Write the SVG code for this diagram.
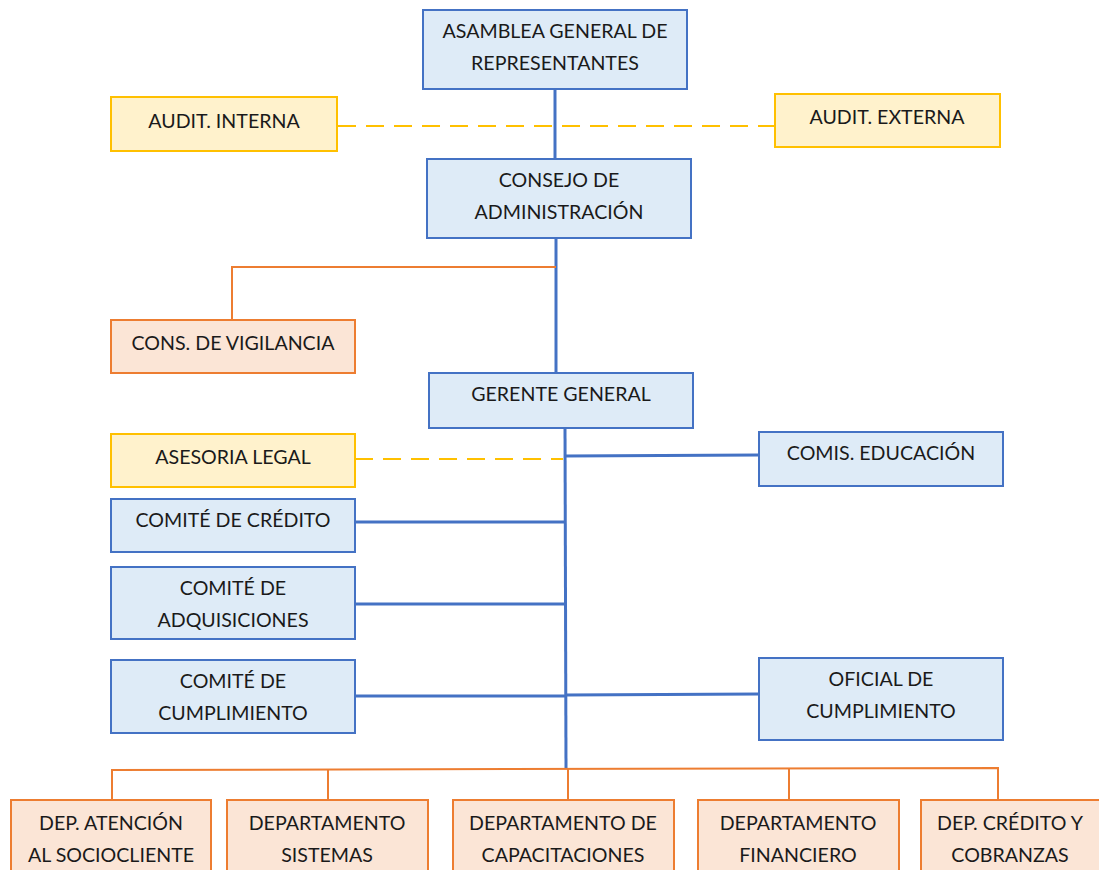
<svg xmlns="http://www.w3.org/2000/svg" width="1099" height="870" viewBox="0 0 1099 870">
  <style>
    .blue rect { fill: #DEEBF7; stroke: #4472C4; stroke-width: 2; }
    .gold rect { fill: #FFF2CC; stroke: #FFC000; stroke-width: 2; }
    .peach rect { fill: #FBE5D6; stroke: #ED7D31; stroke-width: 2; }
    text { font-family: Lato, "Liberation Sans", sans-serif; font-size: 19.6px; fill: #1a1a1a; text-anchor: middle; }
    .main { stroke: #4472C4; stroke-width: 3; fill: none; }
    .staff { stroke: #FFC000; stroke-width: 2; stroke-dasharray: 18 10; fill: none; }
    .dept { stroke: #ED7D31; stroke-width: 2; fill: none; }
  </style>

  <!-- connectors -->
  <g id="connectors">
    <line class="staff" x1="338" y1="126" x2="775" y2="126"/>
    <line class="main" x1="555" y1="89" x2="555" y2="158"/>
    <line class="main" x1="556" y1="238" x2="556" y2="373"/>
    <polyline class="dept" points="556,267 232,267 232,320"/>
    <line class="main" x1="565" y1="428" x2="566" y2="769"/>
    <line class="staff" x1="355" y1="459" x2="563" y2="459"/>
    <line class="main" x1="565" y1="456" x2="759" y2="455"/>
    <line class="main" x1="355" y1="522" x2="565" y2="522"/>
    <line class="main" x1="355" y1="604" x2="565" y2="604"/>
    <line class="main" x1="355" y1="696" x2="565" y2="696"/>
    <line class="main" x1="566" y1="695" x2="759" y2="694"/>
    <polyline class="dept" points="112,800 112,770 998,768 998,800"/>
    <line class="dept" x1="328" y1="769" x2="328" y2="800"/>
    <line class="dept" x1="568" y1="769" x2="568" y2="800"/>
    <line class="dept" x1="789" y1="768" x2="789" y2="800"/>
  </g>

  <g id="asamblea" class="blue">
    <rect x="423" y="10" width="264" height="79"/>
    <text x="555" y="38">ASAMBLEA GENERAL DE</text>
    <text x="555" y="70">REPRESENTANTES</text>
  </g>

  <g id="audit-interna" class="gold">
    <rect x="111" y="97" width="226" height="54"/>
    <text x="224" y="128">AUDIT. INTERNA</text>
  </g>

  <g id="audit-externa" class="gold">
    <rect x="775" y="94" width="225" height="53"/>
    <text x="887" y="124">AUDIT. EXTERNA</text>
  </g>

  <g id="consejo" class="blue">
    <rect x="427" y="159" width="264" height="79"/>
    <text x="559" y="187">CONSEJO DE</text>
    <text x="559" y="219">ADMINISTRACIÓN</text>
  </g>

  <g id="vigilancia" class="peach">
    <rect x="111" y="320" width="244" height="53"/>
    <text x="233" y="350">CONS. DE VIGILANCIA</text>
  </g>

  <g id="gerente" class="blue">
    <rect x="429" y="373" width="264" height="55"/>
    <text x="561" y="401">GERENTE GENERAL</text>
  </g>

  <g id="asesoria" class="gold">
    <rect x="111" y="434" width="244" height="53"/>
    <text x="233" y="464">ASESORIA LEGAL</text>
  </g>

  <g id="comis-educacion" class="blue">
    <rect x="759" y="432" width="244" height="54"/>
    <text x="881" y="460">COMIS. EDUCACIÓN</text>
  </g>

  <g id="comite-credito" class="blue">
    <rect x="111" y="499" width="244" height="53"/>
    <text x="233" y="527">COMITÉ DE CRÉDITO</text>
  </g>

  <g id="comite-adquisiciones" class="blue">
    <rect x="111" y="567" width="244" height="72"/>
    <text x="233" y="595">COMITÉ DE</text>
    <text x="233" y="627">ADQUISICIONES</text>
  </g>

  <g id="comite-cumplimiento" class="blue">
    <rect x="111" y="660" width="244" height="73"/>
    <text x="233" y="688">COMITÉ DE</text>
    <text x="233" y="720">CUMPLIMIENTO</text>
  </g>

  <g id="oficial-cumplimiento" class="blue">
    <rect x="759" y="658" width="244" height="82"/>
    <text x="881" y="686">OFICIAL DE</text>
    <text x="881" y="718">CUMPLIMIENTO</text>
  </g>

  <g id="dep-atencion" class="peach">
    <rect x="11" y="800" width="200" height="80"/>
    <text x="111" y="830">DEP. ATENCIÓN</text>
    <text x="111" y="862">AL SOCIOCLIENTE</text>
  </g>

  <g id="dep-sistemas" class="peach">
    <rect x="227" y="800" width="201" height="80"/>
    <text x="327" y="830">DEPARTAMENTO</text>
    <text x="327" y="862">SISTEMAS</text>
  </g>

  <g id="dep-capacitaciones" class="peach">
    <rect x="453" y="800" width="221" height="80"/>
    <text x="563" y="830">DEPARTAMENTO DE</text>
    <text x="563" y="862">CAPACITACIONES</text>
  </g>

  <g id="dep-financiero" class="peach">
    <rect x="698" y="800" width="201" height="80"/>
    <text x="798" y="830">DEPARTAMENTO</text>
    <text x="798" y="862">FINANCIERO</text>
  </g>

  <g id="dep-credito" class="peach">
    <rect x="921" y="800" width="190" height="80"/>
    <text x="1010" y="830">DEP. CRÉDITO Y</text>
    <text x="1010" y="862">COBRANZAS</text>
  </g>
</svg>
